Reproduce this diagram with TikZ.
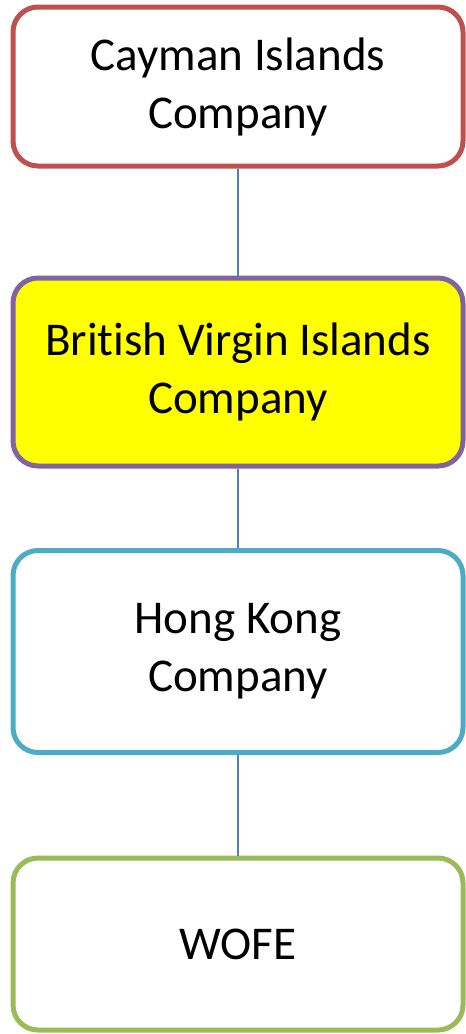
\documentclass[tikz,border=0pt]{standalone}
\usepackage{fontspec}
\setmainfont[Ligatures=NoCommon]{Carlito}
\usepackage{tikz}
\usetikzlibrary{positioning}
\definecolor{caymanred}{HTML}{C0504D}
\definecolor{bvipurple}{HTML}{8064A2}
\definecolor{hkcyan}{HTML}{4BACC6}
\definecolor{wofegreen}{HTML}{9BBB59}
\definecolor{linkblue}{HTML}{4F81BD}
\definecolor{bviyellow}{HTML}{FFFF00}

\begin{document}
\begin{tikzpicture}[x=1pt,y=1pt,
    company/.style={draw, line width=5pt, rounded corners=25pt, fill=white,
        minimum width=450pt, align=center, inner sep=0pt,
        font=\fontsize{47}{58}\selectfont},
    link/.style={draw=linkblue, line width=1.5pt}]
    % Rahmen
    \useasboundingbox (0,0) rectangle (466,-1034);
    % Firmen
    \node[company, draw=caymanred, minimum height=159pt] (cayman) at (238,-86.5) {Cayman Islands\\Company};
    \node[company, draw=bvipurple, fill=bviyellow, minimum height=188pt] (bvi) at (238,-372) {British Virgin Islands\\Company};
    \node[company, draw=hkcyan, minimum height=202pt] (hk) at (238,-651.5) {Hong Kong\\Company};
    \node[company, draw=wofegreen, minimum height=172pt] (wofe) at (238,-944) {WOFE};
    % Verbindungen
    \draw[link] (cayman) -- (bvi);
    \draw[link] (bvi) -- (hk);
    \draw[link] (hk) -- (wofe);
\end{tikzpicture}
\end{document}
